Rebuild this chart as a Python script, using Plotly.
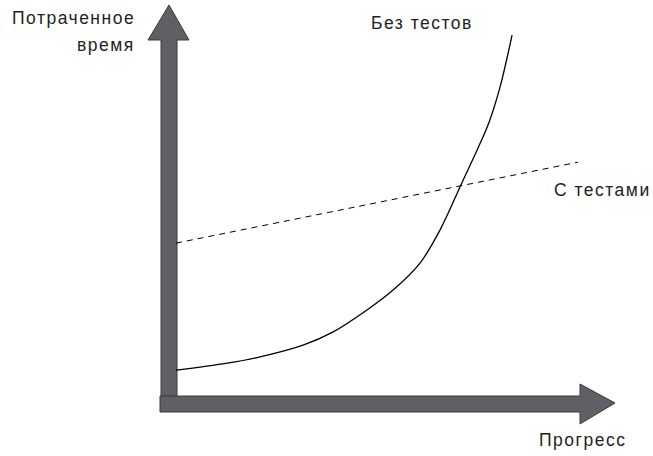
import plotly.graph_objects as go

# Conceptual chart: progress (x) vs time spent (y), arbitrary units 0..100
progress_no_tests = [0, 12.7, 20.9, 31.6, 39.1, 47.5, 54.0, 60.7, 65.7, 71.1, 74.9, 77.9, 80.6, 83.6]
time_no_tests = [6.6, 8.4, 10.0, 13.0, 16.4, 22.0, 27.1, 34.0, 42.5, 54.5, 62.9, 70.1, 79.0, 92.3]
progress_tests = [0, 100]
time_tests = [39.1, 59.8]

label_no_tests = "Без тестов"
label_tests = "С тестами"
y_title_lines = ["Потраченное", "время"]
x_title = "Прогресс"

W, H = 653, 456
# pixel mapping
X0, XS = 176.0, 4.02
Y0, YS = 396.0, 3.91
def px(x):
    return (x - X0) / XS
def py(y):
    return (Y0 - y) / YS

FONT = "Liberation Sans, Arial, sans-serif"
GREY = "#606064"
EDGE = "#3a3a3c"
TXT = "#231f20"

def spaced(t, ls=1.5):
    return f'<span style="letter-spacing:{ls}px">{t}</span>'

fig = go.Figure()

# axis arrows (decoration)
v_arrow = (f"M {px(161)},{py(411)} L {px(161)},{py(40)} L {px(148)},{py(40)} "
           f"L {px(169)},{py(5)} L {px(189)},{py(40)} L {px(177)},{py(40)} "
           f"L {px(177)},{py(411)} Z")
h_arrow = (f"M {px(160)},{py(396)} L {px(580)},{py(396)} L {px(580)},{py(384)} "
           f"L {px(615)},{py(403)} L {px(580)},{py(424)} L {px(580)},{py(412)} "
           f"L {px(160)},{py(412)} Z")
for p in (v_arrow, h_arrow):
    fig.add_shape(type="path", path=p, xref="x", yref="y",
                  fillcolor=GREY, line=dict(color=EDGE, width=1), layer="below")

fig.add_trace(go.Scatter(x=progress_tests, y=time_tests, mode="lines",
                         line=dict(color="black", width=1, dash="6px,5px"),
                         hoverinfo="skip", showlegend=False))
fig.add_trace(go.Scatter(x=progress_no_tests, y=time_no_tests, mode="lines",
                         line=dict(color="black", width=1.3, shape="spline", smoothing=1),
                         hoverinfo="skip", showlegend=False))

fs = 17.5
fnt = dict(family=FONT, size=fs, color=TXT)
fig.add_annotation(x=px(137), y=py(18), text=spaced(y_title_lines[0]), showarrow=False,
                   xanchor="right", yanchor="middle", font=fnt)
fig.add_annotation(x=px(137), y=py(45), text=spaced(y_title_lines[1]), showarrow=False,
                   xanchor="right", yanchor="middle", font=fnt)
fig.add_annotation(x=px(422), y=py(23), text=spaced(label_no_tests), showarrow=False,
                   xanchor="center", yanchor="middle", font=fnt)
fig.add_annotation(x=px(552), y=py(190), text=spaced(label_tests), showarrow=False,
                   xanchor="left", yanchor="middle", font=fnt)
fig.add_annotation(x=px(628), y=py(440), text=spaced(x_title), showarrow=False,
                   xanchor="right", yanchor="middle", font=fnt)

fig.update_layout(
    width=W, height=H, margin=dict(l=0, r=0, t=0, b=0),
    paper_bgcolor="white", plot_bgcolor="white",
    xaxis=dict(range=[px(0), px(W)], visible=False, fixedrange=True),
    yaxis=dict(range=[py(H), py(0)], visible=False, fixedrange=True),
    showlegend=False,
)
fig.write_html("out.html", config={"displayModeBar": False},
               post_script="document.body.style.margin='0';document.body.style.overflow='hidden';")
